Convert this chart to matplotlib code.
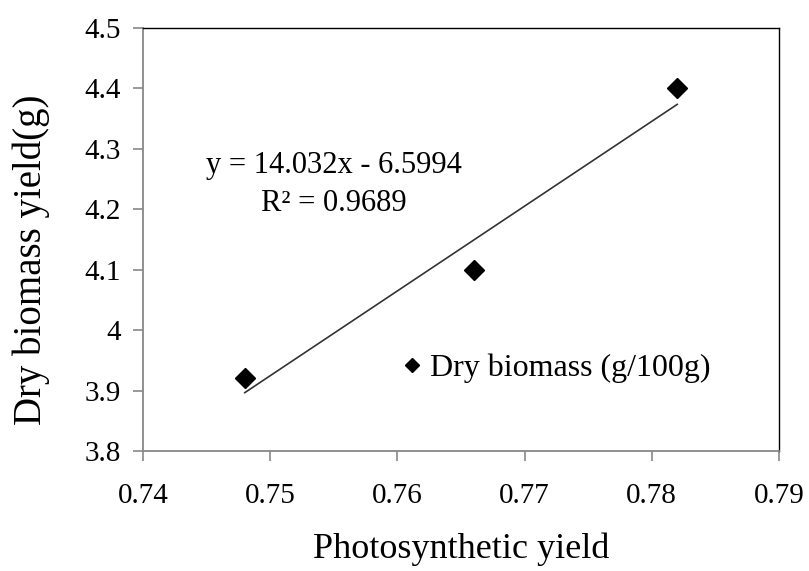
import matplotlib
matplotlib.use("Agg")
import matplotlib.pyplot as plt
import numpy as np

# --- data ---
photo_yield = [0.748, 0.766, 0.782]
dry_biomass = [3.92, 4.10, 4.40]
slope = 14.032
intercept = -6.5994
r_squared = 0.9689

x_ticks = [0.74, 0.75, 0.76, 0.77, 0.78, 0.79]
y_ticks = [3.8, 3.9, 4.0, 4.1, 4.2, 4.3, 4.4, 4.5]
x_tick_labels = ["0.74", "0.75", "0.76", "0.77", "0.78", "0.79"]
y_tick_labels = ["3.8", "3.9", "4", "4.1", "4.2", "4.3", "4.4", "4.5"]

plt.rcParams["font.family"] = ["Liberation Serif", "DejaVu Serif"]

fig = plt.figure(figsize=(8.09, 5.71), dpi=100)
ax = fig.add_axes([143 / 809, 1 - 451 / 571, (779 - 143) / 809, (451 - 28) / 571])

ax.plot(photo_yield, dry_biomass, linestyle="none", marker="D", markersize=10,
        color="black", label="Dry biomass (g/100g)", zorder=3)

# --- linear trendline ---
fit_x = np.array([min(photo_yield), max(photo_yield)])
ax.plot(fit_x, slope * fit_x + intercept, color="#333333", linewidth=1.2, zorder=2)

ax.text(0.7550, 4.272, f"y = {slope}x - {abs(intercept)}", fontsize=22, ha="center", va="center")
ax.text(0.7550, 4.210, f"R² = {r_squared}", fontsize=22, ha="center", va="center")

ax.set_xlim(0.74, 0.79)
ax.set_ylim(3.8, 4.5)
ax.set_xticks(x_ticks)
ax.set_xticklabels(x_tick_labels)
ax.set_yticks(y_ticks)
ax.set_yticklabels(y_tick_labels)
ax.tick_params(axis="both", direction="out", length=7, width=1.2, color="#888888",
               labelsize=21)
ax.tick_params(axis="x", pad=16)
ax.tick_params(axis="y", pad=9)

for side in ["left", "bottom"]:
    ax.spines[side].set_color("#888888")
    ax.spines[side].set_linewidth(1.3)
for side in ["top", "right"]:
    ax.spines[side].set_color("black")
    ax.spines[side].set_linewidth(1.0)

ax.set_xlabel("Photosynthetic yield", fontsize=26, labelpad=17)
ax.set_ylabel("Dry biomass yield(g)", fontsize=28)
ax.yaxis.set_label_coords(-0.147, 0.452)

ax.legend(loc="center left", bbox_to_anchor=(0.403, 0.196), frameon=False,
          fontsize=23, handletextpad=0.15, handlelength=0.8, borderpad=0,
          borderaxespad=0, markerscale=0.7)

fig.savefig("out.png", dpi=100)
